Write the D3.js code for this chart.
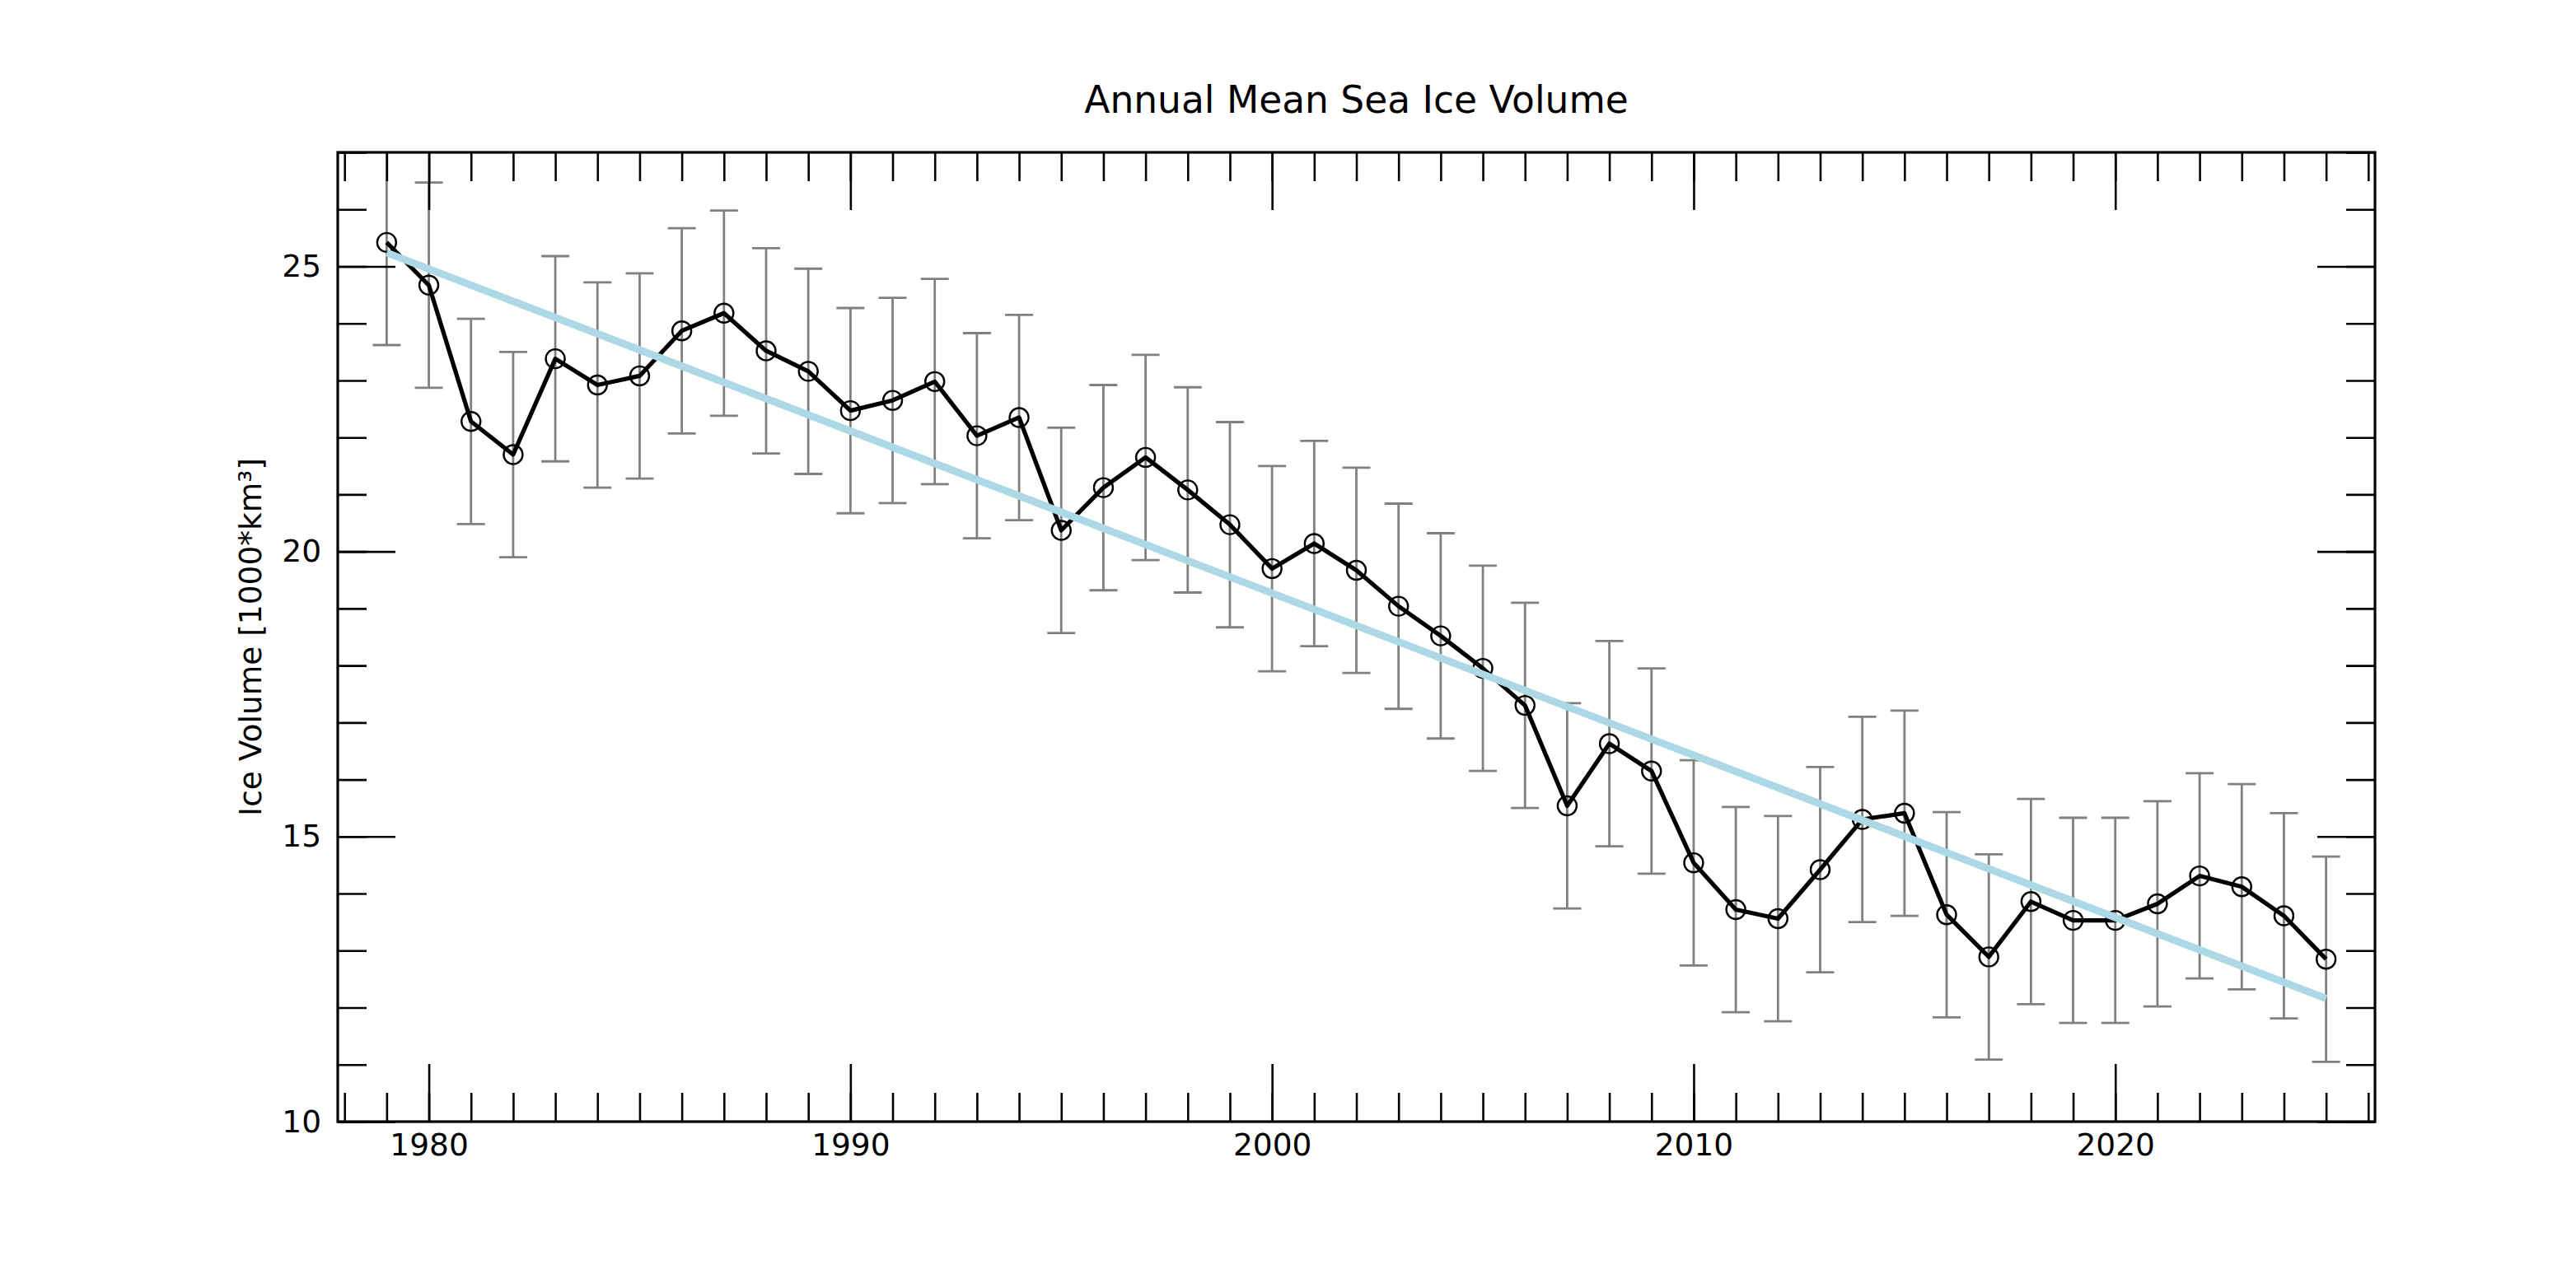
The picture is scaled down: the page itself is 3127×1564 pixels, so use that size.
<!DOCTYPE html>
<html>
<head>
<meta charset="utf-8">
<script src="https://cdn.jsdelivr.net/npm/d3@7"></script>
<style>
  body { margin: 0; background: #fff; }
  text { font-family: "DejaVu Sans", sans-serif; }
</style>
</head>
<body>
<svg width="3127" height="1564"></svg>
<script>
// annual mean values
var years = [1979, 1980, 1981, 1982, 1983, 1984, 1985, 1986, 1987, 1988,
             1989, 1990, 1991, 1992, 1993, 1994, 1995, 1996, 1997, 1998,
             1999, 2000, 2001, 2002, 2003, 2004, 2005, 2006, 2007, 2008,
             2009, 2010, 2011, 2012, 2013, 2014, 2015, 2016, 2017, 2018,
             2019, 2020, 2021, 2022, 2023, 2024, 2025];
var volume = [25.42, 24.67, 22.28, 21.70, 23.38, 22.92, 23.08, 23.87, 24.18, 23.52,
              23.16, 22.47, 22.65, 22.98, 22.03, 22.35, 20.37, 21.12, 21.65, 21.08,
              20.47, 19.70, 20.14, 19.67, 19.04, 18.52, 17.95, 17.30, 15.54, 16.63,
              16.15, 14.54, 13.72, 13.56, 14.42, 15.30, 15.41, 13.63, 12.89, 13.86,
              13.53, 13.53, 13.82, 14.31, 14.12, 13.61, 12.85];
var volumeErr = [1.8, 1.8, 1.8, 1.8, 1.8, 1.8, 1.8, 1.8, 1.8, 1.8,
                 1.8, 1.8, 1.8, 1.8, 1.8, 1.8, 1.8, 1.8, 1.8, 1.8,
                 1.8, 1.8, 1.8, 1.8, 1.8, 1.8, 1.8, 1.8, 1.8, 1.8,
                 1.8, 1.8, 1.8, 1.8, 1.8, 1.8, 1.8, 1.8, 1.8, 1.8,
                 1.8, 1.8, 1.8, 1.8, 1.8, 1.8, 1.8];
// trend line end points
var trendYears = [1979, 2025];
var trendValues = [25.24, 12.16];

var majorYears = [1980, 1990, 2000, 2010, 2020];
var minorYears = d3.range(1978, 2027);
var majorVols = [10, 15, 20, 25];
var minorVols = d3.range(10, 28);

var data = years.map(function(y, i) { return { year: y, value: volume[i], err: volumeErr[i] }; });

var svg = d3.select("svg");
var mLeft = 410, mRight = 2883, mTop = 185, mBottom = 1362;
var width = mRight - mLeft, height = mBottom - mTop;

var x = d3.scaleLinear().domain([1977.84, 2026.16]).range([0, width]);
var y = d3.scaleLinear().domain([10, 27]).range([height, 0]);

svg.append("rect").attr("width", 3127).attr("height", 1564).attr("fill", "#fff");

svg.append("text")
  .attr("x", mLeft + width / 2)
  .attr("y", 137)
  .attr("text-anchor", "middle")
  .attr("font-size", "45.5px")
  .text("Annual Mean Sea Ice Volume");

svg.append("text")
  .attr("transform", "translate(317," + (mTop + height / 2) + ") rotate(-90)")
  .attr("text-anchor", "middle")
  .attr("font-size", "37.5px")
  .text("Ice Volume [1000*km³]");

var g = svg.append("g").attr("transform", "translate(" + mLeft + "," + mTop + ")");

svg.append("defs").append("clipPath").attr("id", "clip")
  .append("rect").attr("width", width).attr("height", height);

var plot = g.append("g").attr("clip-path", "url(#clip)");

// error bars
var eb = plot.selectAll(".eb").data(data).enter().append("g").attr("class", "eb")
  .attr("stroke", "#808080").attr("stroke-width", 2.8);
eb.append("line")
  .attr("x1", function(d) { return x(d.year); })
  .attr("x2", function(d) { return x(d.year); })
  .attr("y1", function(d) { return y(d.value + d.err); })
  .attr("y2", function(d) { return y(d.value - d.err); });
eb.append("line")
  .attr("x1", function(d) { return x(d.year) - 17; })
  .attr("x2", function(d) { return x(d.year) + 17; })
  .attr("y1", function(d) { return y(d.value + d.err); })
  .attr("y2", function(d) { return y(d.value + d.err); });
eb.append("line")
  .attr("x1", function(d) { return x(d.year) - 17; })
  .attr("x2", function(d) { return x(d.year) + 17; })
  .attr("y1", function(d) { return y(d.value - d.err); })
  .attr("y2", function(d) { return y(d.value - d.err); });

// data line and open circle markers
var line = d3.line().x(function(d) { return x(d.year); }).y(function(d) { return y(d.value); });
plot.append("path").datum(data)
  .attr("d", line)
  .attr("fill", "none")
  .attr("stroke", "#000")
  .attr("stroke-width", 5.2)
  .attr("stroke-linejoin", "round");

plot.selectAll(".pt").data(data).enter().append("circle")
  .attr("class", "pt")
  .attr("cx", function(d) { return x(d.year); })
  .attr("cy", function(d) { return y(d.value); })
  .attr("r", 11.5)
  .attr("fill", "none")
  .attr("stroke", "#000")
  .attr("stroke-width", 2.4);

// trend
plot.append("line")
  .attr("x1", x(trendYears[0])).attr("y1", y(trendValues[0]))
  .attr("x2", x(trendYears[1])).attr("y2", y(trendValues[1]))
  .attr("stroke", "#add8e6")
  .attr("stroke-width", 9);

// axes, ticks pointing inwards
function style(sel, labels) {
  sel.select(".domain").remove();
  sel.selectAll(".tick line").attr("stroke", "#000").attr("stroke-width", 2.6);
  sel.selectAll(".tick text").attr("font-size", "37.5px").attr("fill", "#000")
    .attr("font-family", "DejaVu Sans, sans-serif");
  if (!labels) sel.selectAll(".tick text").remove();
}

g.append("g").attr("transform", "translate(0," + height + ")")
  .call(d3.axisBottom(x).tickValues(minorYears).tickSize(-35).tickFormat(""))
  .call(style, false);
g.append("g").attr("transform", "translate(0," + height + ")")
  .call(d3.axisBottom(x).tickValues(majorYears).tickSize(-70).tickPadding(14.5).tickFormat(d3.format("d")))
  .call(style, true);
g.append("g")
  .call(d3.axisTop(x).tickValues(minorYears).tickSize(-35).tickFormat(""))
  .call(style, false);
g.append("g")
  .call(d3.axisTop(x).tickValues(majorYears).tickSize(-70).tickFormat(""))
  .call(style, false);

g.append("g")
  .call(d3.axisLeft(y).tickValues(minorVols).tickSize(-35).tickFormat(""))
  .call(style, false);
g.append("g")
  .call(d3.axisLeft(y).tickValues(majorVols).tickSize(-70).tickPadding(20).tickFormat(d3.format("d")))
  .call(style, true);
g.append("g").attr("transform", "translate(" + width + ",0)")
  .call(d3.axisRight(y).tickValues(minorVols).tickSize(-35).tickFormat(""))
  .call(style, false);
g.append("g").attr("transform", "translate(" + width + ",0)")
  .call(d3.axisRight(y).tickValues(majorVols).tickSize(-70).tickFormat(""))
  .call(style, false);

// frame
g.append("rect")
  .attr("width", width).attr("height", height)
  .attr("fill", "none").attr("stroke", "#000").attr("stroke-width", 3.2);
</script>
</body>
</html>
